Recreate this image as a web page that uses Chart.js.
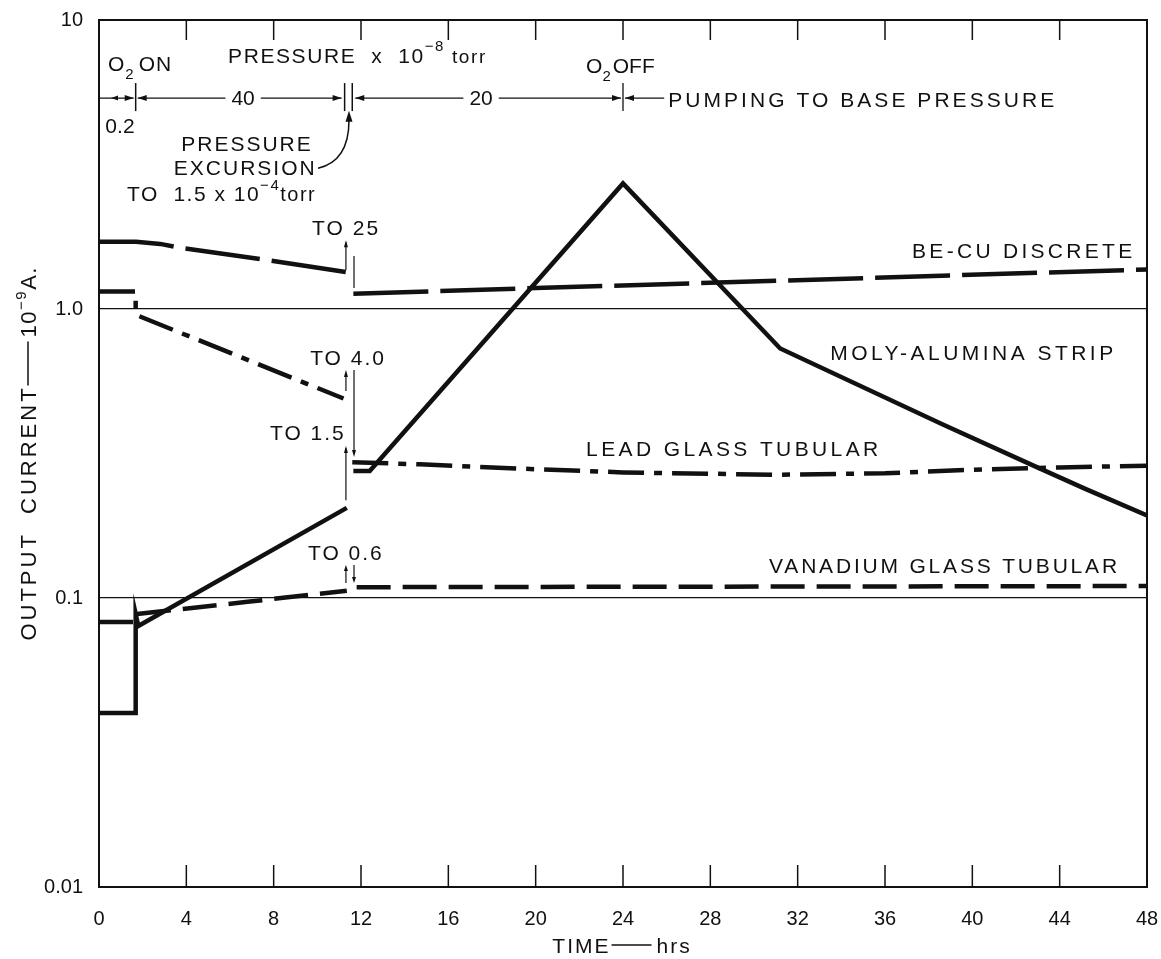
<!DOCTYPE html>
<html>
<head>
<meta charset="utf-8">
<script src="https://cdn.jsdelivr.net/npm/chart.js@4"></script>
<style>
  body { margin: 0; background: #fff; }
  #wrap { width: 1161px; height: 959px; }
</style>
</head>
<body>
<div id="wrap"><canvas id="chart" width="1161" height="959"></canvas></div>
<script>
// axis ticks
var timeTicks = [0, 4, 8, 12, 16, 20, 24, 28, 32, 36, 40, 44, 48];
var currentTicks = [0.01, 0.1, 1, 10];
var currentTickLabels = ['0.01', '0.1', '1.0', '10'];

// BE-CU DISCRETE (long dash)
var beCuHours  = [0, 1.7, 2.8, 3.7, 7.6, 11.4, 11.5, 11.65, 48];
var beCuValues = [1.71, 1.71, 1.68, 1.63, 1.48, 1.34, null, 1.13, 1.37];

// MOLY-ALUMINA STRIP (solid)
var molyHours  = [0, 1.68, 1.68, 1.8, 11.35, 11.5, 11.65, 12.4, 24, 31.2, 38.6, 42.8, 45.2, 48];
var molyValues = [0.04, 0.04, 0.088, 0.08, 0.205, null, 0.275, 0.275, 2.72, 0.73, 0.40, 0.287, 0.238, 0.193];

// LEAD GLASS TUBULAR (dash-dot)
var leadHours  = [0, 1.68, 1.68, 11.2, 11.4, 11.6, 14.7, 20, 24, 31, 36, 40, 44, 48];
var leadValues = [1.15, 1.15, 0.955, 0.49, null, 0.295, 0.29, 0.279, 0.272, 0.267, 0.27, 0.278, 0.283, 0.287];

// VANADIUM GLASS TUBULAR (dash)
var vanHours  = [0, 1.68, 1.68, 6.8, 11.35, 11.55, 11.8, 48];
var vanValues = [0.0826, 0.0826, 0.088, 0.097, 0.106, null, 0.109, 0.110];

var FONT = '"Liberation Sans", Arial, sans-serif';
var INK = '#111';

function toPoints(hours, values) {
   return hours.map(function (h, i) { return { x: h, y: values[i] }; });
}

function font(size) { return size + 'px ' + FONT; }

// text stretched with letter spacing between x0 and x1
function fitText(c, str, x0, x1, y, size) {
   c.font = font(size);
   c.letterSpacing = '0px';
   var m = c.measureText(str).width;
   var ls = (x1 - x0 - m) / (str.length - 1);
   c.letterSpacing = ls + 'px';
   c.textAlign = 'left';
   c.fillText(str, x0, y);
   c.letterSpacing = '0px';
}

// runs of text with sub / superscripts
function richText(c, parts, x, y, spacing) {
   c.textAlign = 'left';
   c.letterSpacing = (spacing || 0) + 'px';
   parts.forEach(function (p) {
      c.font = font(p.size || 21);
      c.fillText(p.t, x, y + (p.dy || 0));
      x += c.measureText(p.t).width + (p.gap || 0);
   });
   c.letterSpacing = '0px';
   return x;
}

function head(c, x, y, dir, len, w) {
   len = len || 9; w = w || 3;
   c.beginPath();
   if (dir === 'up')    { c.moveTo(x, y); c.lineTo(x - w, y + len); c.lineTo(x + w, y + len); }
   if (dir === 'down')  { c.moveTo(x, y); c.lineTo(x - w, y - len); c.lineTo(x + w, y - len); }
   if (dir === 'left')  { c.moveTo(x, y); c.lineTo(x + len, y - w); c.lineTo(x + len, y + w); }
   if (dir === 'right') { c.moveTo(x, y); c.lineTo(x - len, y - w); c.lineTo(x - len, y + w); }
   c.closePath();
   c.fill();
}

function vline(c, x, y0, y1, lw) {
   c.lineWidth = lw || 1.3;
   c.beginPath(); c.moveTo(x, y0); c.lineTo(x, y1); c.stroke();
}

function hline(c, x0, x1, y, lw) {
   c.lineWidth = lw || 1.3;
   c.beginPath(); c.moveTo(x0, y); c.lineTo(x1, y); c.stroke();
}

var annotations = {
   id: 'annotations',
   afterDraw: function (chart) {
      var c = chart.ctx;
      var a = chart.chartArea;
      var xs = chart.scales.x, ys = chart.scales.y;
      var X = function (h) { return xs.getPixelForValue(h); };
      var Y = function (v) { return ys.getPixelForValue(v); };

      c.save();
      c.strokeStyle = INK;
      c.fillStyle = INK;
      c.textBaseline = 'alphabetic';

      // frame
      c.lineWidth = 2;
      c.strokeRect(a.left, a.top, a.right - a.left, a.bottom - a.top);

      // inward time ticks, bottom and top
      timeTicks.forEach(function (t) {
         if (t === 0 || t === 48) return;
         vline(c, X(t), a.bottom, a.bottom - 22, 1.5);
         vline(c, X(t), a.top, a.top + 20, 1.5);
      });

      // axis titles
      c.font = font(21);
      c.letterSpacing = '2px';
      var t1 = 'TIME', t2 = 'hrs';
      var w1 = c.measureText(t1).width, w2 = c.measureText(t2).width;
      var dash = 40;
      var xt = (a.left + a.right) / 2 - (w1 + dash + 8 + w2) / 2;
      var yt = 953;
      c.textAlign = 'left';
      c.fillText(t1, xt, yt);
      hline(c, xt + w1 + 1, xt + w1 + dash + 1, yt - 8, 1.5);
      c.fillText(t2, xt + w1 + dash + 6, yt);
      c.letterSpacing = '0px';

      c.save();
      c.translate(36, 452);
      c.rotate(-Math.PI / 2);
      c.font = font(22);
      c.letterSpacing = '3px';
      var s1 = 'OUTPUT  CURRENT';
      var ws1 = c.measureText(s1).width;
      var total = ws1 + 48 + 74;
      var sx = -total / 2;
      c.textAlign = 'left';
      c.fillText(s1, sx, 0);
      hline(c, sx + ws1, sx + ws1 + 44, -8, 1.5);
      richText(c, [{ t: '10', size: 22 }, { t: '\u22129', size: 15, dy: -10 }, { t: 'A.', size: 22 }], sx + ws1 + 48, 0, 1.5);
      c.restore();

      // O2 ON / pressure header / O2 OFF
      richText(c, [{ t: 'O', gap: 0 }, { t: '2', size: 15, dy: 8, gap: 4 }, { t: 'ON' }], X(0.41), Y(6.66), 1);
      richText(c, [{ t: 'PRESSURE  x  10' }, { t: '\u22128', size: 15, dy: -12 }, { t: ' torr', size: 19 }], X(5.91), Y(7.1), 1.6);
      richText(c, [{ t: 'O', gap: 0 }, { t: '2', size: 15, dy: 8, gap: 2 }, { t: 'OFF' }], X(22.31), Y(6.56), 0);

      // dimension line
      var yd = Y(5.37);
      var bar0 = X(1.68), barA = X(11.25), barB = X(11.6), bar24 = X(24);
      c.font = font(21);
      c.textBaseline = 'middle';
      c.textAlign = 'center';
      var w40 = c.measureText('40').width, w20 = c.measureText('20').width;
      hline(c, a.left, bar0 - 2, yd);
      head(c, bar0 - 2, yd, 'right');
      head(c, a.left + 12, yd, 'left', 7, 2.5);
      vline(c, bar0, Y(6.05), Y(4.84), 1.5);
      head(c, bar0 + 2, yd, 'left');
      hline(c, bar0 + 2, X(6.6) - w40 / 2 - 6, yd);
      c.fillText('40', X(6.6), yd + 1);
      hline(c, X(6.6) + w40 / 2 + 6, barA - 3, yd);
      head(c, barA - 3, yd, 'right');
      vline(c, barA, Y(6.05), Y(4.84), 1.5);
      vline(c, barB, Y(6.05), Y(4.84), 1.5);
      head(c, barB + 3, yd, 'left');
      hline(c, barB + 3, X(17.5) - w20 / 2 - 6, yd);
      c.fillText('20', X(17.5), yd + 1);
      hline(c, X(17.5) + w20 / 2 + 6, bar24 - 2, yd);
      head(c, bar24 - 2, yd, 'right');
      vline(c, bar24, Y(6.05), Y(4.84), 1.3);
      head(c, bar24 + 2, yd, 'left');
      hline(c, bar24 + 2, X(26.07) - 4, yd);
      c.textBaseline = 'alphabetic';
      fitText(c, 'PUMPING TO BASE PRESSURE', X(26.07), X(43.75), yd + 9, 21);

      c.font = font(21);
      c.textAlign = 'center';
      c.fillText('0.2', X(0.96), Y(4.06));

      // pressure excursion note
      c.letterSpacing = '2px';
      c.fillText('PRESSURE', X(6.78), Y(3.52));
      c.fillText('EXCURSION', X(6.7), Y(2.91));
      c.letterSpacing = '0px';
      richText(c, [{ t: 'TO  1.5 x 10' }, { t: '\u22124', size: 15, dy: -11 }, { t: 'torr', size: 20 }], X(1.28), Y(2.36), 1.5);

      c.lineWidth = 1.5;
      c.beginPath();
      c.moveTo(X(10.03), Y(3.07));
      c.quadraticCurveTo(X(11.45), Y(3.25), X(11.45), Y(4.5));
      c.stroke();
      head(c, X(11.45), Y(4.85), 'up', 11, 3.5);

      // excursion jump notes
      var xu = X(11.31), xdn = X(11.68);
      c.font = font(21);
      c.textAlign = 'left';
      c.letterSpacing = '2px';
      c.fillText('TO 25', X(9.76), Y(1.80));
      c.fillText('TO 4.0', X(9.67), Y(0.64));
      c.fillText('TO 1.5', X(7.83), Y(0.352));
      c.fillText('TO 0.6', X(9.57), Y(0.1353));
      c.letterSpacing = '0px';

      vline(c, xu, Y(1.364), Y(1.70), 1.2); head(c, xu, Y(1.73), 'up', 7, 2);
      vline(c, xdn, Y(1.525), Y(1.182), 1.2);
      vline(c, xu, Y(0.52), Y(0.60), 1.2); head(c, xu, Y(0.615), 'up', 7, 2);
      vline(c, xdn, Y(0.615), Y(0.32), 1.2); head(c, xdn, Y(0.3077), 'down', 7, 2);
      vline(c, xu, Y(0.218), Y(0.33), 1.2); head(c, xu, Y(0.336), 'up', 7, 2);
      vline(c, xu, Y(0.1127), Y(0.127), 1.2); head(c, xu, Y(0.130), 'up', 6, 2);
      vline(c, xdn, Y(0.130), Y(0.115), 1.2); head(c, xdn, Y(0.1127), 'down', 6, 2);

      // series labels
      fitText(c, 'BE-CU DISCRETE', X(37.24), X(47.32), Y(1.50), 21);
      fitText(c, 'MOLY-ALUMINA STRIP', X(33.49), X(46.45), Y(0.666), 21);
      fitText(c, 'LEAD GLASS TUBULAR', X(22.31), X(35.69), Y(0.31), 21);
      fitText(c, 'VANADIUM GLASS TUBULAR', X(30.69), X(46.63), Y(0.122), 21);

      c.restore();
   }
};

var ctx = document.getElementById('chart').getContext('2d');

var chart = new Chart(ctx, {
   type: 'line',
   data: {
      datasets: [{
         label: 'BE-CU DISCRETE',
         data: toPoints(beCuHours, beCuValues),
         borderColor: INK,
         borderWidth: 4.5,
         borderDash: [75, 12]
      }, {
         label: 'MOLY-ALUMINA STRIP',
         data: toPoints(molyHours, molyValues),
         borderColor: INK,
         borderWidth: 4.5
      }, {
         label: 'LEAD GLASS TUBULAR',
         data: toPoints(leadHours, leadValues),
         borderColor: INK,
         borderWidth: 4.5,
         borderDash: [36, 10, 8, 10]
      }, {
         label: 'VANADIUM GLASS TUBULAR',
         data: toPoints(vanHours, vanValues),
         borderColor: INK,
         borderWidth: 4.5,
         borderDash: [34, 12]
      }]
   },
   options: {
      responsive: false,
      animation: false,
      devicePixelRatio: 1,
      layout: { padding: { top: 20, right: 14, left: 0, bottom: 0 } },
      elements: {
         point: { radius: 0 },
         line: { tension: 0, fill: false }
      },
      plugins: {
         legend: { display: false },
         tooltip: { enabled: false }
      },
      scales: {
         x: {
            type: 'linear',
            min: 0,
            max: 48,
            grid: { display: false },
            border: { display: false },
            afterBuildTicks: function (s) {
               s.ticks = timeTicks.map(function (v) { return { value: v }; });
            },
            afterFit: function (s) {
               s.height = 72;
               s.paddingLeft = 0;
               s.paddingRight = 0;
            },
            ticks: {
               color: INK,
               padding: 12,
               maxRotation: 0,
               font: { family: FONT, size: 20 }
            }
         },
         y: {
            type: 'logarithmic',
            min: 0.01,
            max: 10,
            border: { display: false },
            grid: {
               drawTicks: false,
               lineWidth: 1.3,
               color: function (c) {
                  var v = c.tick && c.tick.value;
                  return (v === 1 || v === 0.1) ? INK : 'rgba(0,0,0,0)';
               }
            },
            afterBuildTicks: function (s) {
               s.ticks = currentTicks.map(function (v) { return { value: v }; });
            },
            afterFit: function (s) {
               s.width = 99;
               s.paddingTop = 0;
               s.paddingBottom = 0;
            },
            ticks: {
               color: INK,
               padding: 16,
               font: { family: FONT, size: 20 },
               callback: function (v) {
                  return currentTickLabels[currentTicks.indexOf(v)];
               }
            }
         }
      }
   },
   plugins: [annotations]
});
</script>
</body>
</html>
